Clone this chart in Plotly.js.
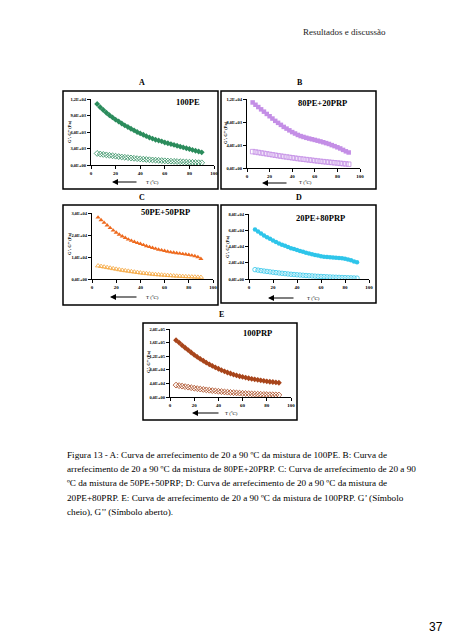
<!DOCTYPE html>
<html><head><meta charset="utf-8">
<script src="https://cdn.plot.ly/plotly-3.0.1.min.js"></script>
<style>html,body{margin:0;padding:0;background:#fff}#c{width:453px;height:640px}</style>
</head><body><div id="c"></div>
<script>
// ---------- DATA ----------
const T = [5,7.5,10,12.5,15,17.5,20,22.5,25,27.5,30,32.5,35,37.5,40,42.5,45,47.5,50,52.5,55,57.5,60,62.5,65,67.5,70,72.5,75,77.5,80,82.5,85,87.5,90];

const A_G1 = [11100,10500,10000,9500,9050,8650,8250,7900,7550,7200,6900,6600,6300,6000,5750,5500,5250,5000,4800,4600,4450,4300,4100,3950,3800,3650,3500,3350,3200,3050,2900,2750,2600,2450,2300];
const A_G2 = [2100,2000,1920,1840,1760,1680,1600,1530,1460,1400,1340,1280,1220,1160,1110,1060,1010,960,920,880,840,800,760,720,690,660,630,600,570,540,510,480,450,420,400];

const B_G1 = [11400,11000,10600,10200,9800,9400,9000,8600,8200,7850,7500,7150,6850,6550,6250,6000,5750,5550,5400,5250,5120,5000,4880,4750,4620,4480,4330,4180,3980,3800,3600,3400,3150,2900,2700];
const B_G2 = [2850,2780,2700,2620,2540,2460,2380,2300,2220,2140,2060,1990,1920,1850,1780,1710,1640,1580,1520,1460,1400,1340,1280,1220,1160,1110,1060,1010,960,910,860,810,760,710,660];

const C_G1 = [28000,26800,25600,24400,23200,22100,21100,20200,19400,18700,18000,17400,16900,16400,16000,15500,15000,14600,14200,13800,13400,13100,12800,12500,12200,12000,11800,11600,11400,11200,11000,10700,10400,10000,9200];
const C_G2 = [6000,5750,5500,5250,5000,4750,4500,4250,4000,3800,3600,3400,3200,3000,2800,2650,2500,2350,2200,2050,1950,1850,1750,1650,1550,1450,1350,1280,1200,1120,1050,980,920,860,800];

const D_G1 = [61000,58500,56000,53500,51500,49500,47500,45500,43800,42200,40800,39400,38000,36800,35600,34500,33400,32400,31400,30500,29600,28800,28000,27400,27000,26700,26400,26100,25800,25400,24800,24000,23000,21500,20500];
const D_G2 = [11500,10900,10300,9800,9300,8800,8300,7850,7400,7000,6600,6200,5800,5500,5200,4900,4600,4300,4050,3800,3550,3300,3100,2900,2700,2500,2300,2150,2000,1850,1700,1550,1400,1250,1100];

const E_G1 = [167000,160000,152000,145000,138000,131000,124000,118000,112000,106500,101000,96000,91500,87000,83000,79000,75500,72000,69000,66000,63500,61000,59000,57000,55000,53500,52000,50500,49000,47500,46000,45000,44000,43000,42000];
const E_G2 = [35000,33500,32000,30500,29000,27500,26000,24700,23400,22200,21000,19900,18800,17800,16800,15900,15000,14200,13400,12700,12000,11400,10800,10200,9700,9200,8700,8300,7900,7500,7100,6800,6500,6200,5900];

const xTicks = [0,20,40,60,80,100];
const A_yTicks = [0,3000,6000,9000,12000];
const A_yLabels = ["0,0E+00","3,0E+03","6,0E+03","9,0E+03","1,2E+04"];
const B_yTicks = [0,4000,8000,12000];
const B_yLabels = ["0,0E+00","4,0E+03","8,0E+03","1,2E+04"];
const C_yTicks = [0,10000,20000,30000];
const C_yLabels = ["0,0E+00","1,0E+04","2,0E+04","3,0E+04"];
const D_yTicks = [0,20000,40000,60000,80000];
const D_yLabels = ["0,0E+00","2,0E+04","4,0E+04","6,0E+04","8,0E+04"];
const E_yTicks = [0,40000,80000,120000,160000,200000];
const E_yLabels = ["0,0E+00","4,0E+04","8,0E+04","1,2E+05","1,6E+05","2,0E+05"];

const panelLetters = ["A","B","C","D","E"];
const sampleNames = ["100PE","80PE+20PRP","50PE+50PRP","20PE+80PRP","100PRP"];

const captionLines = [
 "Figura 13 - A: Curva de arrefecimento de 20 a 90 ºC da mistura de 100PE. B: Curva de",
 "arrefecimento de 20 a 90 ºC da mistura de 80PE+20PRP. C: Curva de arrefecimento de 20 a 90",
 "ºC da mistura de 50PE+50PRP; D: Curva de arrefecimento de 20 a 90 ºC da mistura de",
 "20PE+80PRP. E: Curva de arrefecimento de 20 a 90 ºC da mistura de 100PRP. G’ (Símbolo",
 "cheio), G’’ (Símbolo aberto)."
];

// ---------- LAYOUT ----------
const W = 453, H = 640;
const px = v => v / W;
const py = v => 1 - v / H;
const SERIF = "Liberation Serif, Times New Roman, serif";

const panels = [
 {g1:A_G1,g2:A_G2,sym:"diamond",c1:"#2b8c5c",c2:"#2b8c5c",ymax:12000,yt:A_yTicks,yl:A_yLabels,
  frame:[63,91,218,189],plot:[91,214,99,165],letter:[142,82],name:[188,102],ytitle:[69,132],xtitle:[152,182],arrow:[112,138,182]},
 {g1:B_G1,g2:B_G2,sym:"square",c1:"#c48ee6",c2:"#c48ee6",ymax:12000,yt:B_yTicks,yl:B_yLabels,
  frame:[221,91,376,189],plot:[247,360,99,168],letter:[300,82],name:[322,103],ytitle:[226,133],xtitle:[305,183],arrow:[262,288,183]},
 {g1:C_G1,g2:C_G2,sym:"triangle-up",c1:"#ee6a1e",c2:"#f5a43a",ymax:30000,yt:C_yTicks,yl:C_yLabels,
  frame:[63,205,218,305],plot:[92,213,213,279],letter:[142,197],name:[165,212],ytitle:[69,244],xtitle:[152,297],arrow:[110,138,297]},
 {g1:D_G1,g2:D_G2,sym:"circle",c1:"#2ec5ea",c2:"#2ec5ea",ymax:80000,yt:D_yTicks,yl:D_yLabels,
  frame:[221,205,376,303],plot:[249,369,214,279],letter:[299,197],name:[320,218],ytitle:[227,247],xtitle:[313,298],arrow:[268,295,298]},
 {g1:E_G1,g2:E_G2,sym:"diamond",c1:"#a8451b",c2:"#a8451b",ymax:200000,yt:E_yTicks,yl:E_yLabels,
  frame:[143,323,297,420],plot:[170,291,329,397],letter:[221,314],name:[257,333],ytitle:[148,362],xtitle:[232,413],arrow:[192,220,413]}
];

const data = [];
const layout = {
  width: W, height: H, margin:{l:0,r:0,t:0,b:0},
  paper_bgcolor:"#fff", plot_bgcolor:"rgba(0,0,0,0)",
  showlegend:false, shapes:[], annotations:[]
};

panels.forEach((p,i) => {
  const n = i === 0 ? "" : String(i+1);
  const xa = "x"+n, ya = "y"+n;
  data.push({x:T, y:p.g1, xaxis:xa, yaxis:ya, type:"scatter", mode:"markers",
    marker:{symbol:p.sym, size:4.5, color:p.c1, line:{width:0}}});
  data.push({x:T, y:p.g2, xaxis:xa, yaxis:ya, type:"scatter", mode:"markers",
    marker:{symbol:p.sym+"-open", size:4.5, color:p.c2, line:{width:0.8, color:p.c2}}});
  const [x0,x1,yTop,yBot] = p.plot;
  layout["xaxis"+n] = {domain:[px(x0),px(x1)], range:[0,100], anchor:ya,
    tickmode:"array", tickvals:xTicks, ticktext:xTicks.map(String),
    ticks:"outside", ticklen:3, tickwidth:1, tickcolor:"#000",
    showline:true, linecolor:"#000", linewidth:1, showgrid:false, zeroline:false,
    tickfont:{family:SERIF, size:5, color:"#000", weight:"bold"}, fixedrange:true};
  layout["yaxis"+n] = {domain:[py(yBot),py(yTop)], range:[0,p.ymax], anchor:xa,
    tickmode:"array", tickvals:p.yt, ticktext:p.yl,
    ticks:"outside", ticklen:3, tickwidth:1, tickcolor:"#000",
    showline:true, linecolor:"#000", linewidth:1, showgrid:false, zeroline:false,
    tickfont:{family:SERIF, size:4.5, color:"#000", weight:"bold"}, fixedrange:true};
  const [fx0,fy0,fx1,fy1] = p.frame;
  layout.shapes.push({type:"rect", xref:"paper", yref:"paper",
    x0:px(fx0), x1:px(fx1), y0:py(fy1), y1:py(fy0), line:{color:"#000", width:1.5}});
  layout.annotations.push({xref:"paper",yref:"paper",x:px(p.letter[0]),y:py(p.letter[1]),
    text:"<b>"+panelLetters[i]+"</b>", showarrow:false, xanchor:"center", yanchor:"middle",
    font:{family:SERIF,size:8,color:"#000"}});
  layout.annotations.push({xref:"paper",yref:"paper",x:px(p.name[0]),y:py(p.name[1]),
    text:"<b>"+sampleNames[i]+"</b>", showarrow:false, xanchor:"center", yanchor:"middle",
    font:{family:SERIF,size:8.5,color:"#000"}});
  layout.annotations.push({xref:"paper",yref:"paper",x:px(p.ytitle[0]),y:py(p.ytitle[1]),
    text:"<b>G’, G’’ (Pa)</b>", textangle:-90, showarrow:false, xanchor:"center", yanchor:"middle",
    font:{family:SERIF,size:4.5,color:"#000"}});
  layout.annotations.push({xref:"paper",yref:"paper",x:px(p.xtitle[0]),y:py(p.xtitle[1]),
    text:"T (ºC)", showarrow:false, xanchor:"center", yanchor:"middle",
    font:{family:SERIF,size:5,color:"#000"}});
  layout.annotations.push({xref:"paper",yref:"paper",x:px(p.arrow[0]),y:py(p.arrow[2]),
    ax:p.arrow[1]-p.arrow[0], ay:0, text:"", showarrow:true, arrowhead:2, arrowsize:1,
    arrowwidth:1.2, arrowcolor:"#000"});
});

// header, caption, page number
layout.annotations.push({xref:"paper",yref:"paper",x:px(388),y:py(32),text:"Resultados e discussão",
  showarrow:false,xanchor:"right",yanchor:"middle",font:{family:SERIF,size:9,color:"#222"}});
const capY = [455,469,483,498,512];
captionLines.forEach((t,k) => {
  layout.annotations.push({xref:"paper",yref:"paper",x:px(65),y:py(capY[k]),text:t,
    showarrow:false,xanchor:"left",yanchor:"middle",font:{family:SERIF,size:9.2,color:"#000"}});
});
layout.annotations.push({xref:"paper",yref:"paper",x:px(445),y:py(627),text:"37",
  showarrow:false,xanchor:"right",yanchor:"middle",font:{family:"Liberation Sans, Arial, sans-serif",size:12,color:"#000"}});

Plotly.newPlot("c", data, layout, {staticPlot:true, displayModeBar:false});
</script></body></html>
